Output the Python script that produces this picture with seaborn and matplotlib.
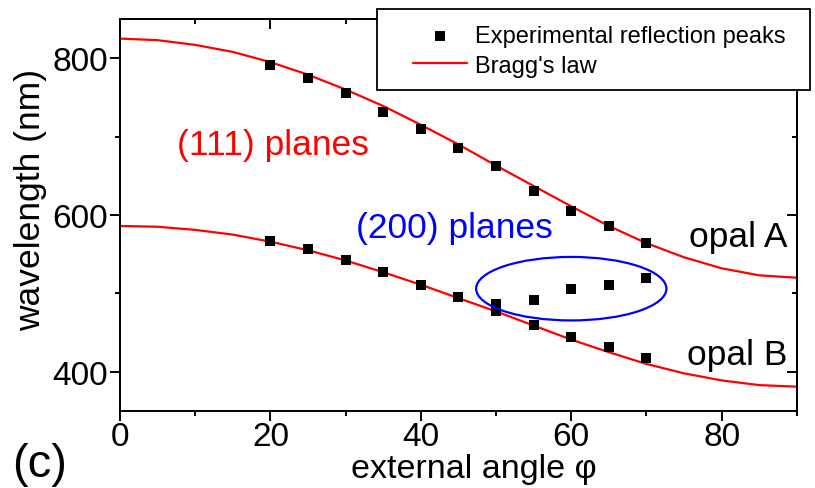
import matplotlib
matplotlib.use("Agg")
import matplotlib.pyplot as plt
from matplotlib.patches import Ellipse, Rectangle
from matplotlib.ticker import MultipleLocator
import seaborn as sns
import pandas as pd

# ---- data ----
fit_angles = [0, 5, 10, 15, 20, 25, 30, 35, 40, 45, 50, 55, 60, 65, 70, 75, 80, 85, 90]
fit_opal_a = [825, 823, 817, 808, 795, 779, 760, 739, 715, 690, 663, 637, 611, 586, 564, 546, 532, 523, 520]
fit_opal_b = [586, 585, 581, 575, 566, 555, 542, 527, 511, 494, 477, 459, 441, 425, 410, 398, 389, 383, 381]

exp_angles = [20, 25, 30, 35, 40, 45, 50, 55, 60, 65, 70]
exp_opal_a = [791, 775, 756, 732, 710, 686, 662, 631, 605, 586, 564]
exp_opal_b = [567, 557, 543, 527, 511, 495, 478, 460, 444, 431, 418]

exp200_angles = [50, 55, 60, 65, 70]
exp200_vals = [487, 492, 505, 511, 520]

x_ticks = [0, 20, 40, 60, 80]
y_ticks = [400, 600, 800]

sns.set_style("ticks")
plt.rcParams["font.family"] = ["Liberation Sans", "DejaVu Sans"]
for k in ["text.color", "axes.labelcolor", "xtick.color", "ytick.color", "axes.edgecolor"]:
    plt.rcParams[k] = "black"

fit_df = pd.concat([
    pd.DataFrame({"angle": fit_angles, "wl": fit_opal_a, "opal": "A"}),
    pd.DataFrame({"angle": fit_angles, "wl": fit_opal_b, "opal": "B"}),
])
exp_df = pd.DataFrame({
    "angle": exp_angles + exp_angles + exp200_angles,
    "wl": exp_opal_a + exp_opal_b + exp200_vals,
})

fig = plt.figure(figsize=(8.15, 4.89), dpi=100)
ax = fig.add_axes([0.1472, 0.1575, 0.8306, 0.8016])

sns.lineplot(data=fit_df[fit_df.opal == "A"], x="angle", y="wl", color="#ff0000",
             lw=1.6, ax=ax, label="Bragg's law", estimator=None, sort=False)
sns.lineplot(data=fit_df[fit_df.opal == "B"], x="angle", y="wl", color="#ff0000",
             lw=1.6, ax=ax, legend=False, estimator=None, sort=False)
sns.scatterplot(data=exp_df, x="angle", y="wl", marker="s", s=52, color="black",
                edgecolor="black", linewidth=0, ax=ax, label="Experimental reflection peaks",
                zorder=3)

ax.set_xlim(0, 90)
ax.set_ylim(350, 850)
ax.set_xticks(x_ticks)
ax.set_yticks(y_ticks)
ax.xaxis.set_minor_locator(MultipleLocator(10))
ax.yaxis.set_minor_locator(MultipleLocator(100))
ax.tick_params(axis="both", which="major", direction="out", length=7, width=1.4,
               labelsize=24, pad=1.5)
ax.tick_params(axis="x", which="major", pad=0.3)
ax.tick_params(axis="both", which="minor", direction="out", length=3.5, width=1.4)
ax.tick_params(top=False, right=False, which="both")
for s in ax.spines.values():
    s.set_linewidth(1.4)
    s.set_color("black")

# inward ticks on top and right
sec_x = ax.secondary_xaxis("top")
sec_x.set_xticks(x_ticks)
sec_x.xaxis.set_minor_locator(MultipleLocator(10))
sec_x.tick_params(which="major", direction="in", length=7, width=1.4, labeltop=False)
sec_x.tick_params(which="minor", direction="in", length=3.5, width=1.4)
sec_y = ax.secondary_yaxis("right")
sec_y.set_yticks(y_ticks)
sec_y.yaxis.set_minor_locator(MultipleLocator(100))
sec_y.tick_params(which="major", direction="in", length=7, width=1.4, labelright=False)
sec_y.tick_params(which="minor", direction="in", length=3.5, width=1.4)
for s in list(sec_x.spines.values()) + list(sec_y.spines.values()):
    s.set_linewidth(1.4)

ax.set_xlabel("external angle φ", fontsize=24.5)
ax.xaxis.set_label_coords(0.523, -0.107)
ax.set_ylabel("wavelength (nm)", fontsize=25.5)
ax.yaxis.set_label_coords(-0.108, 0.54)

# annotations
ax.text(20.3, 690, "(111) planes", color="#ff0000", fontsize=25.5, ha="center", va="center")
ax.text(44.5, 584, "(200) planes", color="#0000ff", fontsize=25.5, ha="center", va="center")
ax.text(75.6, 560, "opal A", color="black", fontsize=25.5, ha="left", va="baseline")
ax.text(75.4, 410, "opal B", color="black", fontsize=25.5, ha="left", va="baseline")

ellipse_center = (60, 506)
ellipse_w, ellipse_h = 25.3, 81
ax.add_patch(Ellipse(ellipse_center, ellipse_w, ellipse_h, fill=False,
                     edgecolor="#0000ff", lw=1.6, zorder=4))

fig.text(0.049, 0.049, "(c)", fontsize=34, ha="center", va="center")

# legend with a square-cornered box
handles, labels = ax.get_legend_handles_labels()
order = [labels.index("Experimental reflection peaks"), labels.index("Bragg's law")]
ax.add_patch(Rectangle((0.3796, 0.819), 0.6398, 0.2066, transform=ax.transAxes,
                       facecolor="white", edgecolor="black", lw=1.3, clip_on=False,
                       zorder=5))
leg = ax.legend([handles[i] for i in order], [labels[i] for i in order],
                loc="upper left", bbox_to_anchor=(0.408, 1.027), frameon=False,
                fontsize=17, handlelength=2.3, handletextpad=0.35,
                labelspacing=0.33, borderpad=0.2, markerscale=1.0)
leg.set_zorder(6)

fig.savefig("out.png", dpi=100)
